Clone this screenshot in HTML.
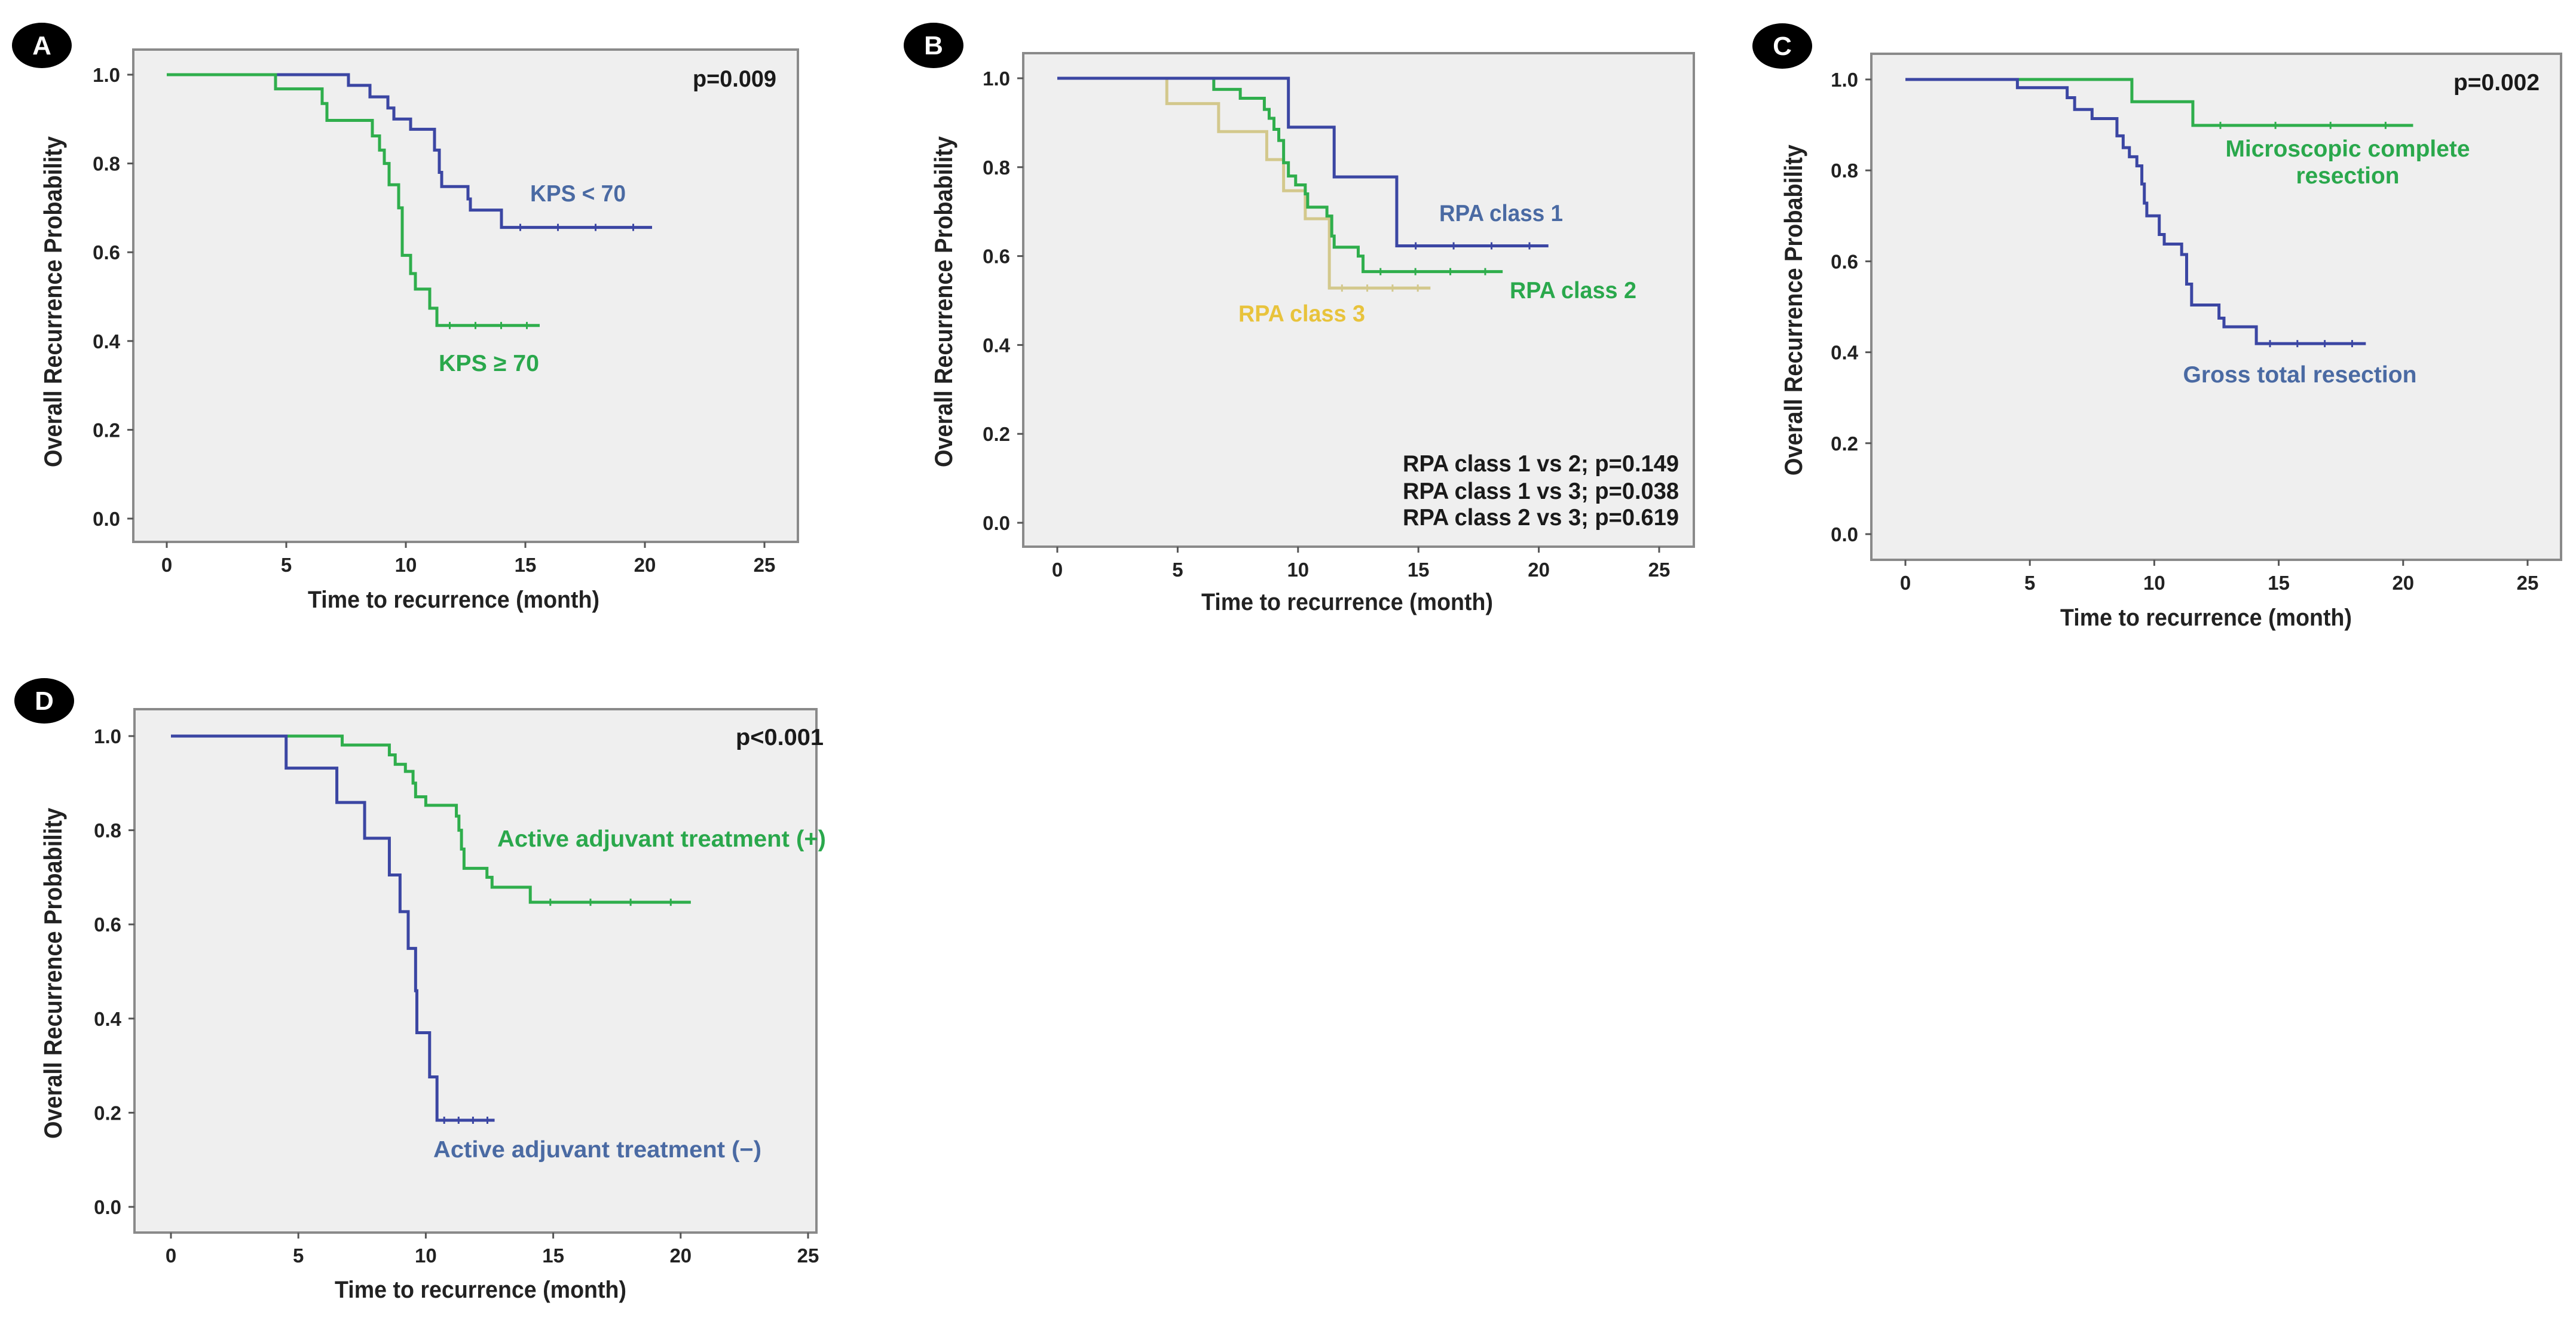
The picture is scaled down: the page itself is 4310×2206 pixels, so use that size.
<!DOCTYPE html>
<html><head><meta charset="utf-8"><title>Kaplan-Meier recurrence curves</title>
<style>
html,body{margin:0;padding:0;background:#fff;overflow:hidden;width:4310px;height:2206px;}
svg{display:block;}
text{font-family:"Liberation Sans Narrow","Liberation Sans",sans-serif;font-weight:bold;}
.ttl{font-family:"Liberation Sans",sans-serif;}
</style></head>
<body>
<svg id="fig" width="4310" height="2206" viewBox="0 0 4310 2206" xmlns="http://www.w3.org/2000/svg"></svg>
<script>
// ---- Data (months, survival probability) ----
const xTicks = [0,5,10,15,20,25];
const yTicks = [0.0,0.2,0.4,0.6,0.8,1.0];
const yTickLabels = ["0.0","0.2","0.4","0.6","0.8","1.0"];

// Panel A
const aBlueT = [0,7.6,8.5,9.25,9.5,10.2,11.2,11.4,11.5,12.6,12.7,14.0,20.3];
const aBlueS = [1,0.976,0.95,0.925,0.90,0.877,0.83,0.78,0.748,0.72,0.695,0.656,0.656];
const aGreenT = [0,4.55,6.5,6.7,8.6,8.9,9.1,9.3,9.7,9.85,10.2,10.4,11.0,11.3,15.6];
const aGreenS = [1,0.968,0.935,0.897,0.862,0.83,0.80,0.752,0.70,0.593,0.552,0.517,0.474,0.435,0.435];
// Panel B
const bC1T = [0,9.6,11.5,14.1,20.4];
const bC1S = [1,0.89,0.778,0.623,0.623];
const bC2T = [0,6.5,7.6,8.6,8.8,9.0,9.2,9.4,9.6,9.9,10.3,10.4,11.2,11.4,11.5,12.5,12.7,18.5];
const bC2S = [1,0.975,0.955,0.93,0.91,0.885,0.86,0.81,0.78,0.76,0.74,0.71,0.69,0.645,0.62,0.60,0.565,0.565];
const bC3T = [0,4.55,6.7,8.7,9.4,10.3,11.3,15.5];
const bC3S = [1,0.943,0.88,0.817,0.747,0.684,0.528,0.528];
// Panel C
const cGreenT = [0,9.1,11.55,20.4];
const cGreenS = [1,0.951,0.899,0.899];
const cBlueT = [0,4.5,6.5,6.8,7.5,8.5,8.75,9.0,9.3,9.5,9.6,9.7,10.2,10.4,11.1,11.3,11.5,12.6,12.8,14.1,18.5];
const cBlueS = [1,0.982,0.96,0.934,0.914,0.876,0.85,0.83,0.81,0.77,0.728,0.70,0.659,0.638,0.615,0.55,0.504,0.475,0.456,0.419,0.419];
// Panel D
const dGreenT = [0,6.72,8.57,8.8,9.2,9.5,9.6,10.0,11.2,11.3,11.4,11.5,12.4,12.6,14.1,20.4];
const dGreenS = [1,0.981,0.96,0.94,0.925,0.90,0.871,0.853,0.83,0.80,0.76,0.719,0.70,0.679,0.647,0.647];
const dBlueT = [0,4.52,6.51,7.6,8.57,8.99,9.31,9.6,9.65,10.15,10.44,12.7];
const dBlueS = [1,0.932,0.859,0.783,0.705,0.627,0.549,0.459,0.37,0.276,0.184,0.184];

const NS = "http://www.w3.org/2000/svg";
const svg = document.getElementById('fig');
function mk(tag, attrs, parent){const e=document.createElementNS(NS,tag);for(const k in attrs)e.setAttribute(k,attrs[k]);(parent||svg).appendChild(e);return e;}

function panel(p){
  const g = mk('g',{});
  
  
  const X = t => p.x0 + (p.x25 - p.x0) * t / 25;
  const Y = s => p.y0 + (p.y1 - p.y0) * s;
  const bg = mk('rect',{x:p.bx0,y:p.by0,width:p.bx1-p.bx0,height:p.by1-p.by0,fill:'#efefef',stroke:'#8a8a8a','stroke-width':4},g);
  
  
  xTicks.forEach(t=>{
    const l = mk('line',{x1:X(t),x2:X(t),y1:p.by1,y2:p.by1+10,stroke:'#555','stroke-width':3},g);
    
    
    const tx = mk('text',{x:X(t),y:p.by1+50,'font-size':33,'text-anchor':'middle',fill:'#222'},g);
    tx.textContent = String(t);
    
    
  });
  yTicks.forEach((v,i)=>{
    const l = mk('line',{x1:p.bx0-10,x2:p.bx0,y1:Y(v),y2:Y(v),stroke:'#555','stroke-width':3},g);
    
    
    const tx = mk('text',{x:p.bx0-22,y:Y(v)+12,'font-size':33,'text-anchor':'end',fill:'#222'},g);
    tx.textContent = yTickLabels[i];
    
    
  });
  p.series.forEach(s=>{
    let d = 'M'+X(s.t[0])+','+Y(s.s[0]);
    for(let i=1;i<s.t.length;i++){ d += ' H'+X(s.t[i]) + ' V'+Y(s.s[i]); }
    const path = mk('path',{d:d,fill:'none',stroke:s.color,'stroke-width':5,'stroke-linejoin':'miter'},g);
    
    
    const last = s.t.length-1;
    for(let k=0;k<4;k++){
      const tc = s.t[last-1] + (s.t[last]-s.t[last-1])*(k+0.5)/4;
      const c = mk('line',{x1:X(tc),x2:X(tc),y1:Y(s.s[last])-6,y2:Y(s.s[last])+6,stroke:s.color,'stroke-width':3},g);
      
      
    }
  });
  const yt = mk('text',{class:'ttl',transform:`translate(${p.ytx},${p.yty}) rotate(-90)`,'font-size':42,'text-anchor':'middle',fill:'#222',textLength:554,lengthAdjust:'spacingAndGlyphs'},g);
  yt.textContent='Overall Recurrence Probability';
  
  
  const xt = mk('text',{x:p.xtx,y:p.xty,'font-size':40,'text-anchor':'middle',fill:'#222',textLength:488,lengthAdjust:'spacingAndGlyphs'},g);
  xt.textContent='Time to recurrence (month)';
  
  
  p.labels.forEach(L=>{
    const t = mk('text',{x:L.x,y:L.y,'font-size':L.fs||39,'text-anchor':L.a||'start',fill:L.c,textLength:L.w,lengthAdjust:'spacingAndGlyphs'},g);
    t.textContent=L.s;
    
    
  });
  const cc = mk('ellipse',{cx:p.cx,cy:p.cy,rx:50,ry:38,fill:'#000'},g);
  
  
  const ct = mk('text',{class:'ttl',x:p.cx,y:p.cy+15,'font-size':44,'text-anchor':'middle',fill:'#fff'},g);
  ct.textContent=p.id;
  
  
}

const BLUE='#3b46a3', GREEN='#2fae4c', TAN='#d3c88c';
const TBLUE='#4a6aa3', TGREEN='#2aa84c', TYEL='#e8c33c', BLK='#1a1a1a';

panel({id:'A',bx0:223,bx1:1335,by0:83,by1:907,x0:279,x25:1279,y0:868,y1:125,
  ytx:103,yty:505,xtx:759,xty:1017,cx:70,cy:76,
  series:[{t:aBlueT,s:aBlueS,color:BLUE,name:'kps-lt70-curve'},{t:aGreenT,s:aGreenS,color:GREEN,name:'kps-ge70-curve'}],
  labels:[{s:'p=0.009',x:1299,y:145,a:'end',w:140,c:BLK,n:'p-value'},
          {s:'KPS < 70',x:887,y:337,w:160,c:TBLUE,n:'kps-lt70-label'},
          {s:'KPS \u2265  70',x:734,y:621,w:168,c:TGREEN,n:'kps-ge70-label'}]});

panel({id:'B',bx0:1712,bx1:2834,by0:89,by1:915,x0:1769,x25:2776,y0:875,y1:131,
  ytx:1593,yty:505,xtx:2254,xty:1021,cx:1562,cy:76,
  series:[{t:bC3T,s:bC3S,color:TAN,name:'rpa-class3-curve'},{t:bC2T,s:bC2S,color:GREEN,name:'rpa-class2-curve'},{t:bC1T,s:bC1S,color:BLUE,name:'rpa-class1-curve'}],
  labels:[{s:'RPA class 1',x:2408,y:370,w:207,c:TBLUE,n:'rpa-class1-label'},
          {s:'RPA class 2',x:2526,y:499,w:212,c:TGREEN,n:'rpa-class2-label'},
          {s:'RPA class 3',x:2072,y:538,w:212,c:TYEL,n:'rpa-class3-label'},
          {s:'RPA class 1 vs 2; p=0.149',x:2809,y:789,a:'end',w:462,c:BLK,n:'p-value-1v2'},
          {s:'RPA class 1 vs 3; p=0.038',x:2809,y:835,a:'end',w:462,c:BLK,n:'p-value-1v3'},
          {s:'RPA class 2 vs 3; p=0.619',x:2809,y:879,a:'end',w:462,c:BLK,n:'p-value-2v3'}]});

panel({id:'C',bx0:3131,bx1:4285,by0:90,by1:937,x0:3188,x25:4229,y0:894,y1:133,
  ytx:3015,yty:519,xtx:3691,xty:1047,cx:2982,cy:77,
  series:[{t:cGreenT,s:cGreenS,color:GREEN,name:'microscopic-complete-curve'},{t:cBlueT,s:cBlueS,color:BLUE,name:'gross-total-curve'}],
  labels:[{s:'p=0.002',x:4249,y:151,a:'end',w:144,c:BLK,n:'p-value'},
          {s:'Microscopic complete',x:3928,y:262,a:'middle',w:409,c:TGREEN,n:'microscopic-label'},
          {s:'resection',x:3928,y:307,a:'middle',w:173,c:TGREEN,n:'microscopic-label-line2'},
          {s:'Gross total resection',x:3848,y:640,a:'middle',w:391,c:TBLUE,n:'gross-total-label'}]});

panel({id:'D',bx0:225,bx1:1366,by0:1187,by1:2063,x0:286,x25:1352,y0:2020,y1:1232,
  ytx:103,yty:1629,xtx:804,xty:2172,cx:74,cy:1173,
  series:[{t:dGreenT,s:dGreenS,color:GREEN,name:'adjuvant-plus-curve'},{t:dBlueT,s:dBlueS,color:BLUE,name:'adjuvant-minus-curve'}],
  labels:[{s:'p<0.001',x:1378,y:1247,a:'end',w:147,c:BLK,n:'p-value'},
          {s:'Active adjuvant treatment (+)',x:832,y:1417,w:550,c:TGREEN,n:'adjuvant-plus-label'},
          {s:'Active adjuvant treatment (\u2212)',x:725,y:1937,w:549,c:TBLUE,n:'adjuvant-minus-label'}]});
</script>
</body></html>
